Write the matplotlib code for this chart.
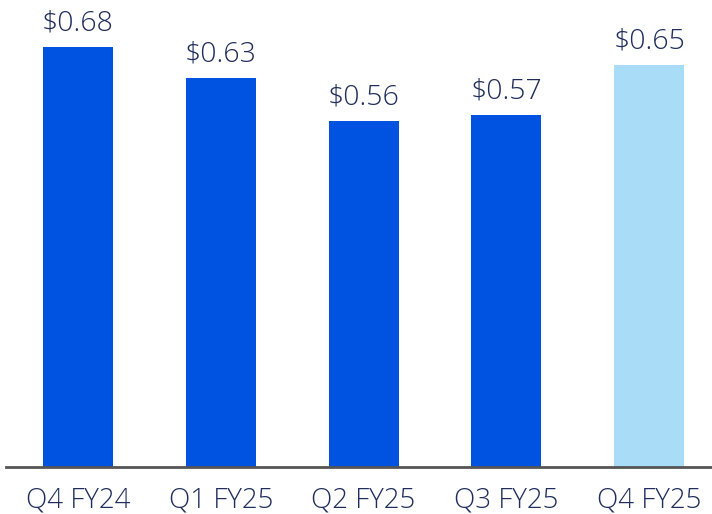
import matplotlib
matplotlib.use("Agg")
import matplotlib.pyplot as plt

# ── Data ──────────────────────────────────
quarters = ["Q4 FY24", "Q1 FY25", "Q2 FY25", "Q3 FY25", "Q4 FY25"]
eps = [0.68, 0.63, 0.56, 0.57, 0.65]
bar_colors = ["#0052E0", "#0052E0", "#0052E0", "#0052E0", "#A9DCF6"]

text_color = "#1F2D5C"
plt.rcParams.update({
    "font.family": ["Open Sans", "DejaVu Sans"],
    "font.weight": "light",
})

fig = plt.figure(figsize=(7.12, 5.14), dpi=100)
ax = fig.add_axes([6 / 712, 47 / 514, 706 / 712, 467 / 514])

x = range(len(quarters))
bars = ax.bar(x, eps, width=0.49, color=bar_colors)

for xi, v in zip(x, eps):
    ax.annotate(f"${v:.2f}", (xi, v), xytext=(0, 7), textcoords="offset points",
                ha="center", va="bottom", fontsize=20.5, color=text_color)

ax.set_xlim(-0.504, 4.44)
ax.set_ylim(0, 0.756)
ax.set_xticks(list(x))
ax.set_xticklabels(quarters, fontsize=20, color=text_color)
ax.tick_params(axis="x", length=0, pad=14)
ax.set_yticks([])

for side in ["top", "right", "left"]:
    ax.spines[side].set_visible(False)
ax.spines["bottom"].set_color("#555555")
ax.spines["bottom"].set_linewidth(2)

fig.savefig("out.png", dpi=100)
plt.close()
